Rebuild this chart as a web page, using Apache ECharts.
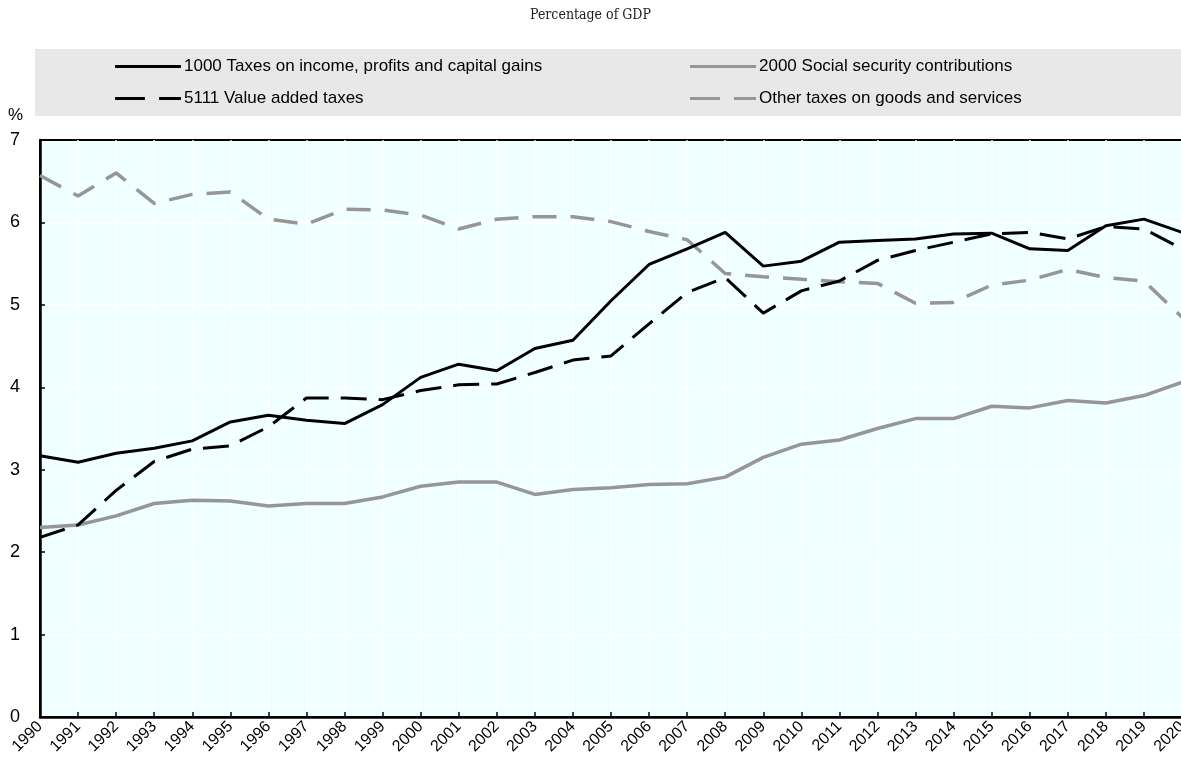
<!DOCTYPE html>
<html>
<head>
<meta charset="utf-8">
<script src="https://cdn.jsdelivr.net/npm/echarts@6/dist/echarts.min.js"></script>
<style>
  html, body { margin: 0; padding: 0; background: #fff; }
  #main { width: 1181px; height: 759px; }
</style>
</head>
<body>
<div id="main"></div>
<script>
// years on the x axis
var years = ['1990','1991','1992','1993','1994','1995','1996','1997','1998','1999',
             '2000','2001','2002','2003','2004','2005','2006','2007','2008','2009',
             '2010','2011','2012','2013','2014','2015','2016','2017','2018','2019','2020'];

var names = ['1000 Taxes on income, profits and capital gains',
             '2000 Social security contributions',
             '5111 Value added taxes',
             'Other taxes on goods and services'];

var incomeTax = [3.17, 3.09, 3.20, 3.26, 3.35, 3.58, 3.66, 3.60, 3.56, 3.79,
                 4.12, 4.28, 4.20, 4.47, 4.57, 5.05, 5.49, 5.68, 5.88, 5.47,
                 5.53, 5.76, 5.78, 5.80, 5.86, 5.87, 5.68, 5.66, 5.96, 6.04, 5.88];
var socialSec = [2.30, 2.33, 2.44, 2.59, 2.63, 2.62, 2.56, 2.59, 2.59, 2.67,
                 2.80, 2.85, 2.85, 2.70, 2.76, 2.78, 2.82, 2.83, 2.91, 3.15,
                 3.31, 3.36, 3.50, 3.62, 3.62, 3.77, 3.75, 3.84, 3.81, 3.90, 4.06];
var vat       = [2.18, 2.33, 2.75, 3.10, 3.25, 3.29, 3.52, 3.87, 3.87, 3.85,
                 3.96, 4.03, 4.04, 4.18, 4.33, 4.38, 4.77, 5.15, 5.33, 4.90,
                 5.17, 5.29, 5.54, 5.66, 5.76, 5.86, 5.88, 5.80, 5.95, 5.92, 5.68];
var otherGoods= [6.57, 6.32, 6.60, 6.23, 6.34, 6.37, 6.04, 5.98, 6.16, 6.15,
                 6.09, 5.92, 6.04, 6.07, 6.07, 6.01, 5.89, 5.79, 5.38, 5.34,
                 5.31, 5.28, 5.26, 5.02, 5.03, 5.24, 5.30, 5.43, 5.33, 5.29, 4.85];

var yTicks = [0, 1, 2, 3, 4, 5, 6, 7];

var myChart = echarts.init(document.getElementById('main'));

var fontSans = 'Liberation Sans, Arial, sans-serif';
// legend keys drawn as filled paths: one bar for solid, two bars for dashed
var solidKey = 'path://M0,0H66V3H0Z';
var dashKey = 'path://M0,0H30V3H0Z M44,0H66V3H44Z';

function legendAt(name, icon, x, y) {
	return {
		data: [{ name: name, icon: icon }],
		left: x,
		top: y,
		padding: 0,
		itemWidth: 66,
		itemHeight: 3,
		itemGap: 0,
		selectedMode: false,
		textStyle: { fontFamily: fontSans, fontSize: 17, color: '#000', padding: [0, 0, 0, -2] }
	};
}

var option = {
	animation: false,
	backgroundColor: '#fff',
	title: {
		text: 'Percentage of GDP',
		left: 'center',
		top: 3,
		textStyle: { fontFamily: 'DejaVu Serif Condensed, DejaVu Serif, serif', fontWeight: 'normal', fontSize: 14, color: '#222' }
	},
	graphic: [
		{ type: 'rect', left: 35, top: 49, shape: { width: 1150, height: 67 }, style: { fill: '#E8E8E8' }, z: -1 },
		{ type: 'text', left: 8, top: 107, style: { text: '%', font: '17px ' + fontSans, fill: '#000' } }
	],
	legend: [
		legendAt(names[0], solidKey, 115, 58),
		legendAt(names[1], solidKey, 690, 58),
		legendAt(names[2], dashKey, 115, 90),
		legendAt(names[3], dashKey, 690, 90)
	],
	grid: {
		left: 40,
		top: 140,
		width: 1142,
		bottom: 42,
		outerBoundsMode: 'none',
		show: true,
		backgroundColor: '#F0FFFF',
		borderColor: '#000',
		borderWidth: 2
	},
	xAxis: {
		type: 'category',
		data: years,
		boundaryGap: false,
		axisLine: { lineStyle: { color: '#000', width: 2.5 } },
		axisTick: { inside: true, length: 5, lineStyle: { color: '#000', width: 1.5 } },
		axisLabel: { rotate: 45, margin: 7, fontFamily: fontSans, fontSize: 16, color: '#000', interval: 0 },
		splitLine: { show: true, showMinLine: false, lineStyle: { color: '#fff', width: 1.5 } }
	},
	yAxis: {
		type: 'value',
		min: yTicks[0],
		max: yTicks[yTicks.length - 1],
		interval: 1,
		axisLine: { show: true, lineStyle: { color: '#000', width: 2.5 } },
		axisTick: { show: true, inside: true, length: 5, lineStyle: { color: '#000', width: 1.5 } },
		axisLabel: { margin: 20, fontFamily: fontSans, fontSize: 18, color: '#000' },
		splitLine: { showMaxLine: false, showMinLine: false, lineStyle: { color: '#fff', width: 1.5 } }
	},
	series: [
		{
			name: names[3], type: 'line', data: otherGoods, symbol: 'none',
			lineStyle: { color: '#969696', width: 3.5, type: [24, 14] },
			itemStyle: { color: '#969696' }
		},
		{
			name: names[1], type: 'line', data: socialSec, symbol: 'none',
			lineStyle: { color: '#969696', width: 3.5 },
			itemStyle: { color: '#969696' }
		},
		{
			name: names[2], type: 'line', data: vat, symbol: 'none',
			lineStyle: { color: '#000', width: 3, type: [26, 12] },
			itemStyle: { color: '#000' }
		},
		{
			name: names[0], type: 'line', data: incomeTax, symbol: 'none',
			lineStyle: { color: '#000', width: 3 },
			itemStyle: { color: '#000' }
		}
	]
};
myChart.setOption(option);
</script>
</body>
</html>
